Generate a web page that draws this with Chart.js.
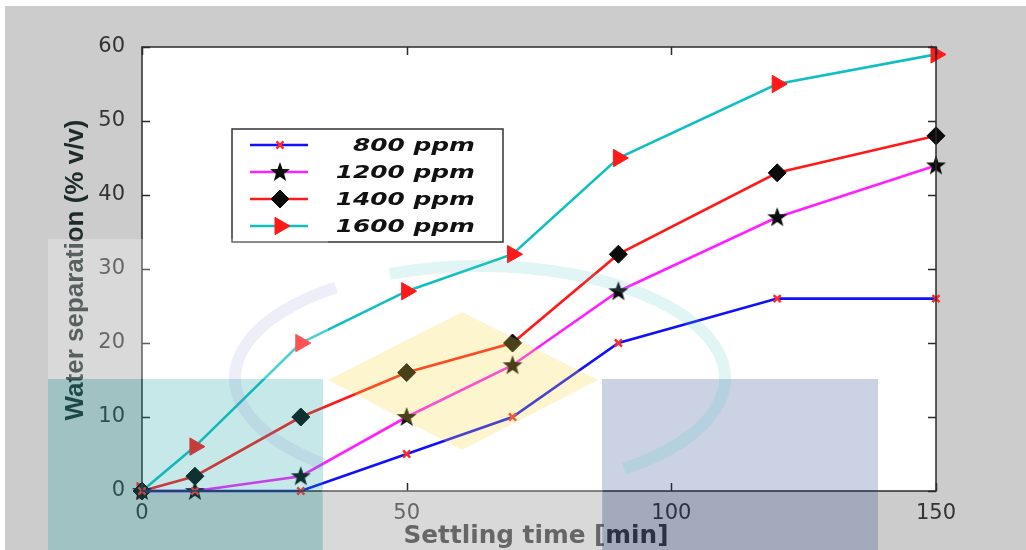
<!DOCTYPE html>
<html>
<head>
<meta charset="utf-8">
<script src="https://cdn.jsdelivr.net/npm/chart.js@4.4.1/dist/chart.umd.min.js"></script>
<style>
  html, body { margin: 0; padding: 0; background: #ffffff; }
  #wrap { width: 1026px; height: 550px; }
</style>
</head>
<body>
<div id="wrap"><canvas id="chart" width="1026" height="550"></canvas></div>
<script>
// --- DATA ---
const settlingTimes = [0, 10, 30, 50, 70, 90, 120, 150];
const sep800 = [0, 0, 0, 5, 10, 20, 26, 26];
const sep1200 = [0, 0, 2, 10, 17, 27, 37, 44];
const sep1400 = [0, 2, 10, 16, 20, 32, 43, 48];
const sep1600 = [0, 6, 20, 27, 32, 45, 55, 59];
const seriesLabels = ['800 ppm', '1200 ppm', '1400 ppm', '1600 ppm'];
const xTicks = [0, 50, 100, 150];
const yTicks = [0, 10, 20, 30, 40, 50, 60];

// filled black star marker (Chart.js 'star' is only an asterisk)
function makeStar() {
    const c = document.createElement('canvas');
    c.width = 22; c.height = 22;
    const g = c.getContext('2d');
    g.fillStyle = '#0b0b0b';
    g.beginPath();
    for (let i = 0; i < 10; i++) {
        const r = i % 2 === 0 ? 10.5 : 4.3;
        const a = -Math.PI / 2 + i * Math.PI / 5;
        const px = 11 + r * Math.cos(a), py = 11.5 + r * Math.sin(a);
        i === 0 ? g.moveTo(px, py) : g.lineTo(px, py);
    }
    g.closePath();
    g.fill();
    return c;
}
const starImg = makeStar();

function toPoints(ys) {
    return settlingTimes.map((x, i) => ({ x: x, y: ys[i] }));
}

const datasets = [
    { label: seriesLabels[0], data: toPoints(sep800), borderColor: '#1010ff', pointStyle: 'crossRot', pointRadius: 5, pointBorderColor: '#ff2a2a', pointBackgroundColor: '#ff2a2a', pointBorderWidth: 2.5 },
    { label: seriesLabels[1], data: toPoints(sep1200), borderColor: '#ff20ff', pointStyle: starImg, pointRadius: 10 },
    { label: seriesLabels[2], data: toPoints(sep1400), borderColor: '#ff1a1a', pointStyle: 'rectRot', pointRadius: 9, pointBorderColor: '#0b0b0b', pointBackgroundColor: '#0b0b0b', pointBorderWidth: 1 },
    { label: seriesLabels[3], data: toPoints(sep1600), borderColor: '#10c0c0', pointStyle: 'triangle', pointRotation: 90, pointRadius: 10, pointBorderColor: '#ff1a1a', pointBackgroundColor: '#ff1a1a', pointBorderWidth: 1 }
];
datasets.forEach(d => {
    d.borderWidth = 2.6;
    d.tension = 0;
    d.fill = false;
    d.clip = false;
});

const FONT = '"DejaVu Sans", Verdana, sans-serif';
const TITLE_FONT = '"Liberation Sans", Arial, sans-serif';

// --- PLUGINS ---
const backdrop = {
    id: 'backdrop',
    beforeDraw(chart) {
        const ctx = chart.ctx, a = chart.chartArea;
        ctx.save();
        ctx.fillStyle = '#ffffff';
        ctx.fillRect(0, 0, chart.width, chart.height);
        ctx.fillStyle = '#cccccc';
        ctx.fillRect(5, 6, chart.width - 5, chart.height - 6);
        ctx.fillStyle = '#ffffff';
        ctx.fillRect(a.left, a.top, a.right - a.left, a.bottom - a.top);
        ctx.restore();
    }
};

const frameAndLegend = {
    id: 'frameAndLegend',
    afterDatasetsDraw(chart) {
        const ctx = chart.ctx, a = chart.chartArea;
        const xs = chart.scales.x, ys = chart.scales.y;
        ctx.save();
        // box + inward ticks
        ctx.strokeStyle = '#2a2a2a';
        ctx.lineWidth = 1.5;
        ctx.strokeRect(a.left, a.top, a.right - a.left, a.bottom - a.top);
        ctx.beginPath();
        xTicks.forEach(v => {
            const px = Math.round(xs.getPixelForValue(v)) + 0.5;
            ctx.moveTo(px, a.bottom); ctx.lineTo(px, a.bottom - 8);
            ctx.moveTo(px, a.top); ctx.lineTo(px, a.top + 8);
        });
        yTicks.forEach(v => {
            const py = Math.round(ys.getPixelForValue(v)) + 0.5;
            ctx.moveTo(a.left, py); ctx.lineTo(a.left + 8, py);
            ctx.moveTo(a.right, py); ctx.lineTo(a.right - 8, py);
        });
        ctx.stroke();

        // axis titles
        ctx.fillStyle = '#333333';
        ctx.textAlign = 'center';
        ctx.textBaseline = 'middle';
        ctx.save();
        ctx.translate(536, 537);
        ctx.scale(1.03, 1);
        ctx.font = 'bold 24px ' + FONT;
        ctx.fillText('Settling time [min]', 0, 0);
        ctx.restore();
        ctx.save();
        ctx.fillStyle = '#1f2a2a';
        ctx.translate(76, 270);
        ctx.rotate(-Math.PI / 2);
        ctx.scale(1.04, 1);
        ctx.font = 'bold 25px ' + TITLE_FONT;
        ctx.fillText('Water separation (% v/v)', 0, 0);
        ctx.restore();

        // legend box
        ctx.fillStyle = '#ffffff';
        ctx.fillRect(232, 129, 271, 113);
        ctx.strokeStyle = '#333333';
        ctx.lineWidth = 1.5;
        ctx.strokeRect(232, 129, 271, 113);
        const rows = [145, 172, 199, 226];
        chart.data.datasets.forEach((d, i) => {
            const y = rows[i];
            ctx.strokeStyle = d.borderColor;
            ctx.lineWidth = 2.6;
            ctx.beginPath();
            ctx.moveTo(250, y); ctx.lineTo(308, y);
            ctx.stroke();
            ctx.fillStyle = d.pointBackgroundColor || '#000';
            ctx.strokeStyle = d.pointBorderColor || '#000';
            ctx.lineWidth = d.pointBorderWidth || 1;
            Chart.helpers.drawPoint(ctx, {
                pointStyle: d.pointStyle,
                radius: d.pointRadius,
                rotation: d.pointRotation || 0,
                borderWidth: d.pointBorderWidth || 1
            }, 280, y);
            ctx.save();
            ctx.translate(475, y + 1);
            ctx.scale(1.38, 1);
            ctx.fillStyle = '#111111';
            ctx.font = 'italic bold 18px ' + FONT;
            ctx.textAlign = 'right';
            ctx.textBaseline = 'middle';
            ctx.fillText(d.label, 0, 0);
            ctx.restore();
        });
        ctx.restore();
    }
};

// faint logo watermark that sits over the figure
const watermark = {
    id: 'watermark',
    afterDraw(chart) {
        const ctx = chart.ctx;
        ctx.save();
        ctx.fillStyle = 'rgba(255,255,255,0.25)';
        ctx.fillRect(48, 239, 280, 140);
        ctx.fillRect(322, 490, 281, 60);
        ctx.fillStyle = 'rgba(27,165,165,0.25)';
        ctx.fillRect(48, 379, 275, 171);
        ctx.fillStyle = 'rgba(14,50,132,0.22)';
        ctx.fillRect(602, 379, 276, 171);
        // yellow diamond
        ctx.fillStyle = 'rgba(245,215,60,0.26)';
        ctx.beginPath();
        ctx.moveTo(462, 312); ctx.lineTo(598, 380); ctx.lineTo(462, 450); ctx.lineTo(328, 380);
        ctx.closePath();
        ctx.fill();
        // ring
        ctx.lineWidth = 12;
        ctx.strokeStyle = 'rgba(90,200,200,0.18)';
        ctx.beginPath();
        ctx.ellipse(480, 378, 245, 112, 0, -Math.PI * 0.62, Math.PI * 0.3);
        ctx.stroke();
        ctx.strokeStyle = 'rgba(120,120,200,0.13)';
        ctx.beginPath();
        ctx.ellipse(480, 378, 245, 112, 0, Math.PI * 0.72, Math.PI * 1.3);
        ctx.stroke();
        ctx.restore();
    }
};

// --- CHART ---
new Chart(document.getElementById('chart'), {
    type: 'line',
    data: { datasets: datasets },
    options: {
        responsive: false,
        animation: false,
        layout: { padding: { left: 0, top: 47, right: 90, bottom: 0 } },
        plugins: { legend: { display: false }, tooltip: { enabled: false } },
        scales: {
            x: {
                type: 'linear',
                min: 0, max: 150,
                afterBuildTicks: s => { s.ticks = xTicks.map(v => ({ value: v })); },
                afterFit: s => { s.height = 59; },
                grid: { display: false },
                border: { display: false },
                ticks: { color: '#333333', padding: 2, maxRotation: 0, font: { family: FONT, size: 21 } }
            },
            y: {
                type: 'linear',
                min: 0, max: 60,
                afterBuildTicks: s => { s.ticks = yTicks.map(v => ({ value: v })); },
                afterFit: s => { s.width = 142; },
                grid: { display: false },
                border: { display: false },
                ticks: { color: '#333333', padding: 9, font: { family: FONT, size: 21 } }
            }
        }
    },
    plugins: [backdrop, frameAndLegend, watermark]
});
</script>
</body>
</html>
